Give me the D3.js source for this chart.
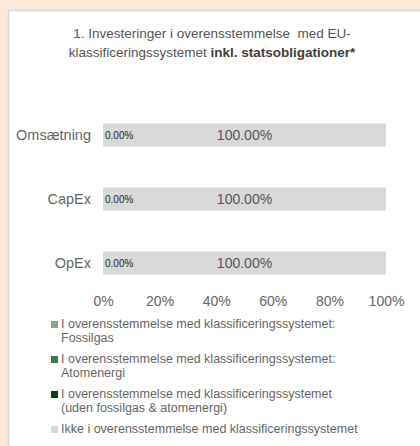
<!DOCTYPE html>
<html>
<head>
<meta charset="utf-8">
<script src="https://cdn.jsdelivr.net/npm/d3@7"></script>
<style>
  html, body { margin: 0; padding: 0; background: #fde9d9; }
  svg { display: block; font-family: "Liberation Sans", Arial, sans-serif; }
</style>
</head>
<body>
<div id="container"></div>
<script>
// data
let categories = ["Omsætning", "CapEx", "OpEx"];
let seriesKeys = ["fossilgas", "atom", "uden", "ikke"];
let fossilgas = [0, 0, 0];
let atom = [0, 0, 0];
let uden = [0, 0, 0];
let ikke = [100, 100, 100];
let ticks = [0, 20, 40, 60, 80, 100];
let legendLines = [
  ["I overensstemmelse med klassificeringssystemet:", "Fossilgas"],
  ["I overensstemmelse med klassificeringssystemet:", "Atomenergi"],
  ["I overensstemmelse med klassificeringssystemet", "(uden fossilgas & atomenergi)"],
  ["Ikke i overensstemmelse med klassificeringssystemet"]
];
let colors = ["#7fa88c", "#3b7a55", "#0c3d10", "#d9d9d9"];

let w = 420;
let h = 446;
let fontFam = "'Liberation Sans', Arial, sans-serif";

let data = categories.map(function(c, i){
  return {cat: c, fossilgas: fossilgas[i], atom: atom[i], uden: uden[i], ikke: ikke[i]};
});

let viz = d3.select("#container")
  .append("svg")
    .attr("width", w)
    .attr("height", h)
;

// white chart area with a thin grey border
viz.append("rect")
  .attr("x", 8.5).attr("y", 10.5)
  .attr("width", w).attr("height", h)
  .attr("fill", "#ffffff")
  .attr("stroke", "#d9d9d9")
  .attr("stroke-width", 1.5);

// title
let t1 = viz.append("text")
  .attr("x", 212).attr("y", 38)
  .attr("text-anchor", "middle")
  .attr("font-size", 13.5)
  .attr("fill", "#555555")
  .attr("xml:space", "preserve")
  .text("1. Investeringer i overensstemmelse  med EU-");
let t2 = viz.append("text")
  .attr("x", 212).attr("y", 57)
  .attr("text-anchor", "middle")
  .attr("font-size", 13.5)
  .attr("fill", "#555555");
t2.append("tspan").text("klassificeringssystemet ");
t2.append("tspan").attr("font-weight", "bold").attr("fill", "#404040").text("inkl. statsobligationer*");

// scales
let xScale = d3.scaleLinear().domain([0, 100]).range([103, 386]);
let yScale = d3.scaleBand()
  .domain(categories)
  .range([103, 295])
  .paddingInner(0.64)
  .paddingOuter(0.32);

// stacked bars
let stacked = d3.stack().keys(seriesKeys)(data);
let layers = viz.append("g").selectAll("g")
  .data(stacked)
  .enter()
  .append("g")
    .attr("fill", function(d, i){ return colors[i]; });

layers.selectAll("rect")
  .data(function(d){ return d; })
  .enter()
  .append("rect")
    .attr("x", function(d){ return xScale(d[0]); })
    .attr("y", function(d){ return yScale(d.data.cat); })
    .attr("width", function(d){ return xScale(d[1]) - xScale(d[0]); })
    .attr("height", yScale.bandwidth());

// category labels
let yAxis = d3.axisLeft(yScale).tickSize(0).tickPadding(12);
let yAxisGroup = viz.append("g").attr("transform", "translate(103,0)").call(yAxis);
yAxisGroup.attr("font-family", fontFam);
yAxisGroup.select(".domain").remove();
yAxisGroup.selectAll("text")
  .attr("font-size", 14.5)
  .attr("fill", "#666666");

// x axis labels
let xAxis = d3.axisBottom(xScale).tickValues(ticks).tickSize(0).tickFormat(function(d){ return d + "%"; });
let xAxisGroup = viz.append("g").attr("transform", "translate(0,293)").call(xAxis);
xAxisGroup.attr("font-family", fontFam);
xAxisGroup.select(".domain").remove();
xAxisGroup.selectAll("text")
  .attr("font-size", 14)
  .attr("fill", "#666666");

// data labels
let labelGroup = viz.append("g");
data.forEach(function(d){
  let cy = yScale(d.cat) + yScale.bandwidth() / 2;
  labelGroup.append("text")
    .attr("x", xScale(d.fossilgas + d.atom) + 2)
    .attr("y", cy)
    .attr("dy", "0.35em")
    .attr("font-size", 10)
    .attr("fill", "#262626")
    .text(d.uden.toFixed(2) + "%");
  labelGroup.append("text")
    .attr("x", xScale(d.fossilgas + d.atom + d.uden + d.ikke / 2))
    .attr("y", cy)
    .attr("dy", "0.35em")
    .attr("text-anchor", "middle")
    .attr("font-size", 14)
    .attr("fill", "#555555")
    .text(d.ikke.toFixed(2) + "%");
});

// legend
let legend = viz.append("g");
let ly = 328;
legendLines.forEach(function(lines, i){
  legend.append("rect")
    .attr("x", 51).attr("y", ly - 7)
    .attr("width", 7).attr("height", 7)
    .attr("fill", colors[i]);
  lines.forEach(function(line, j){
    legend.append("text")
      .attr("x", 61).attr("y", ly + j * 14)
      .attr("font-size", 12.5)
      .attr("fill", "#666666")
      .text(line);
  });
  ly += lines.length * 14 + 7;
});
</script>
</body>
</html>
